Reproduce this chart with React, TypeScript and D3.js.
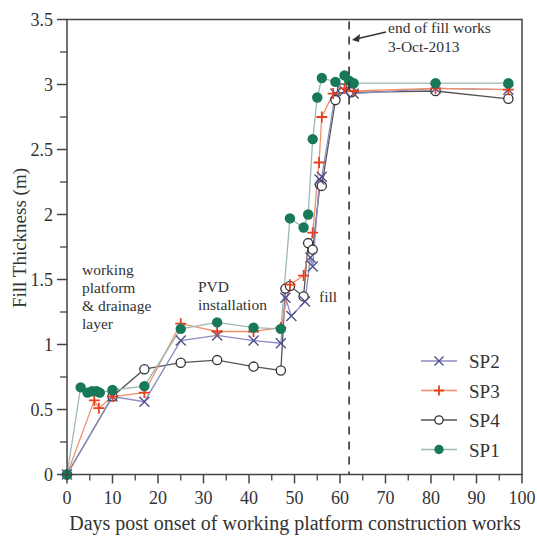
import React from "react";
import * as d3 from "d3";

const sp1Days = [0, 3, 4.5, 5.5, 6.5, 7.2, 10, 17, 25, 33, 41, 47, 49, 52, 53, 54, 55, 56, 59, 61, 62, 63, 81, 97];
const sp1Vals = [0, 0.67, 0.63, 0.64, 0.64, 0.63, 0.65, 0.68, 1.12, 1.17, 1.13, 1.12, 1.97, 1.9, 2.0, 2.58, 2.9, 3.05, 3.02, 3.07, 3.03, 3.01, 3.01, 3.01];

const sp2Days = [0, 10, 17, 25, 33, 41, 47, 48, 49.3, 52.3, 53.5, 54, 55.5, 56, 59, 61, 63, 81, 97];
const sp2Vals = [0, 0.6, 0.56, 1.03, 1.07, 1.03, 1.01, 1.36, 1.22, 1.33, 1.67, 1.6, 2.27, 2.29, 2.93, 2.95, 2.93, 2.97, 2.96];

const sp3Days = [0, 6, 7, 10, 17, 25, 33, 41, 47, 49, 52, 54, 55.4, 56, 58.5, 61, 63, 81, 97];
const sp3Vals = [0, 0.57, 0.51, 0.6, 0.63, 1.16, 1.1, 1.1, 1.13, 1.46, 1.53, 1.86, 2.4, 2.75, 2.93, 2.97, 2.95, 2.97, 2.96];

const sp4Days = [0, 10, 17, 25, 33, 41, 47, 48, 49, 52, 53, 54, 55.6, 56, 59, 60.5, 62.5, 81, 97];
const sp4Vals = [0, 0.6, 0.81, 0.86, 0.88, 0.83, 0.8, 1.43, 1.45, 1.37, 1.78, 1.73, 2.23, 2.22, 2.88, 2.97, 2.94, 2.95, 2.89];

const xTicks = [0, 10, 20, 30, 40, 50, 60, 70, 80, 90, 100];
const yTicks = [0, 0.5, 1, 1.5, 2, 2.5, 3, 3.5];
const endOfFillDay = 62;

type Series = { name: string; days: number[]; vals: number[]; line: string; marker: string; kind: string };
const series: Series[] = [
  { name: "SP4", days: sp4Days, vals: sp4Vals, line: "#555555", marker: "#333333", kind: "circle" },
  { name: "SP2", days: sp2Days, vals: sp2Vals, line: "#8c8cc0", marker: "#4f4f8f", kind: "x" },
  { name: "SP3", days: sp3Days, vals: sp3Vals, line: "#f0906a", marker: "#e8401c", kind: "plus" },
  { name: "SP1", days: sp1Days, vals: sp1Vals, line: "#9db8b0", marker: "#17795a", kind: "dot" },
];
const legendOrder = ["SP2", "SP3", "SP4", "SP1"];

const FONT = "'Liberation Serif', 'Times New Roman', Times, serif";

function Marker({ kind, x, y, color, s = 1 }: { kind: string; x: number; y: number; color: string; s?: number }) {
  if (kind === "dot") return <circle cx={x} cy={y} r={5.2 * s} fill={color} />;
  if (kind === "circle") return <circle cx={x} cy={y} r={4.6 * s} fill="white" stroke={color} strokeWidth={1.3} />;
  const a = 5 * s;
  if (kind === "x")
    return <path d={`M${x - a},${y - a}L${x + a},${y + a}M${x - a},${y + a}L${x + a},${y - a}`} stroke={color} strokeWidth={1.4} />;
  const b = 5.5 * s;
  return <path d={`M${x - b},${y}L${x + b},${y}M${x},${y - b}L${x},${y + b}`} stroke={color} strokeWidth={1.8} />;
}

export default function App() {
  const W = 537, H = 538;
  const left = 67, right = 522, top = 19.5, bottom = 474.5;
  const x = d3.scaleLinear().domain([0, 100]).range([left, right]);
  const y = d3.scaleLinear().domain([0, 3.5]).range([bottom, top]);
  const line = d3.line<[number, number]>().x((d) => x(d[0])).y((d) => y(d[1]));
  const axisColor = "#444";
  const textColor = "#333";
  const minorX = d3.range(5, 100, 10);
  const minorY = d3.range(0.25, 3.5, 0.5);

  return (
    <svg width={W} height={H} style={{ position: "absolute", left: 0, top: 0, background: "white" }} fontFamily={FONT}>
      <rect x={0} y={0} width={W} height={H} fill="white" />
      {series.map((s) => (
        <path
          key={s.name + "l"}
          d={line(s.days.map((d, i) => [d, s.vals[i]] as [number, number])) || ""}
          fill="none"
          stroke={s.line}
          strokeWidth={1.3}
        />
      ))}
      {series.map((s) =>
        s.days.map((d, i) => <Marker key={s.name + i} kind={s.kind} x={x(d)} y={y(s.vals[i])} color={s.marker} />)
      )}
      <line x1={x(endOfFillDay)} x2={x(endOfFillDay)} y1={top + 2} y2={bottom} stroke="#333" strokeWidth={1.6} strokeDasharray="8,7" />
      <rect x={left} y={top} width={right - left} height={bottom - top} fill="none" stroke={axisColor} strokeWidth={1.5} />
      {xTicks.map((t) => (
        <g key={"xt" + t}>
          <line x1={x(t)} x2={x(t)} y1={bottom} y2={bottom + 9} stroke={axisColor} strokeWidth={1.5} />
          <text x={x(t)} y={504} textAnchor="middle" fontSize={18} fill={textColor}>
            {t}
          </text>
        </g>
      ))}
      {minorX.map((t) => (
        <line key={"xm" + t} x1={x(t)} x2={x(t)} y1={bottom} y2={bottom + 6} stroke={axisColor} strokeWidth={1.3} />
      ))}
      {yTicks.map((t) => (
        <g key={"yt" + t}>
          <line x1={left} x2={left - 10} y1={y(t)} y2={y(t)} stroke={axisColor} strokeWidth={1.5} />
          <text x={53} y={y(t) + 6} textAnchor="end" fontSize={18} fill={textColor}>
            {t}
          </text>
        </g>
      ))}
      {minorY.map((t) => (
        <line key={"ym" + t} x1={left} x2={left - 7} y1={y(t)} y2={y(t)} stroke={axisColor} strokeWidth={1.3} />
      ))}
      <text x={295} y={530} textAnchor="middle" fontSize={20} fill={textColor}>
        Days post onset of working platform construction works
      </text>
      <text transform={`translate(26,238) rotate(-90)`} textAnchor="middle" fontSize={19} fill={textColor}>
        Fill Thickness (m)
      </text>
      <g fontSize={15.5} fill={textColor}>
        <text x={82} y={275}>working</text>
        <text x={82} y={293}>platform</text>
        <text x={82} y={311}>&amp; drainage</text>
        <text x={82} y={329}>layer</text>
        <text x={198} y={292}>PVD</text>
        <text x={198} y={310}>installation</text>
        <text x={319} y={302}>fill</text>
        <text x={388} y={33}>end of fill works</text>
        <text x={388} y={52}>3-Oct-2013</text>
      </g>
      <path d="M386,32 L356,39" stroke="#333" strokeWidth={1.4} />
      <path d="M352,40 L360,34 L359,42 Z" fill="#333" />
      {legendOrder.map((n, i) => {
        const s = series.find((q) => q.name === n)!;
        const ly = 361 + i * 29.5;
        return (
          <g key={"lg" + n}>
            <line x1={421} x2={457} y1={ly} y2={ly} stroke={s.line} strokeWidth={1.3} />
            <Marker kind={s.kind} x={439} y={ly} color={s.marker} s={0.9} />
            <text x={469} y={ly + 7} fontSize={19} fill={textColor}>
              {n}
            </text>
          </g>
        );
      })}
    </svg>
  );
}
